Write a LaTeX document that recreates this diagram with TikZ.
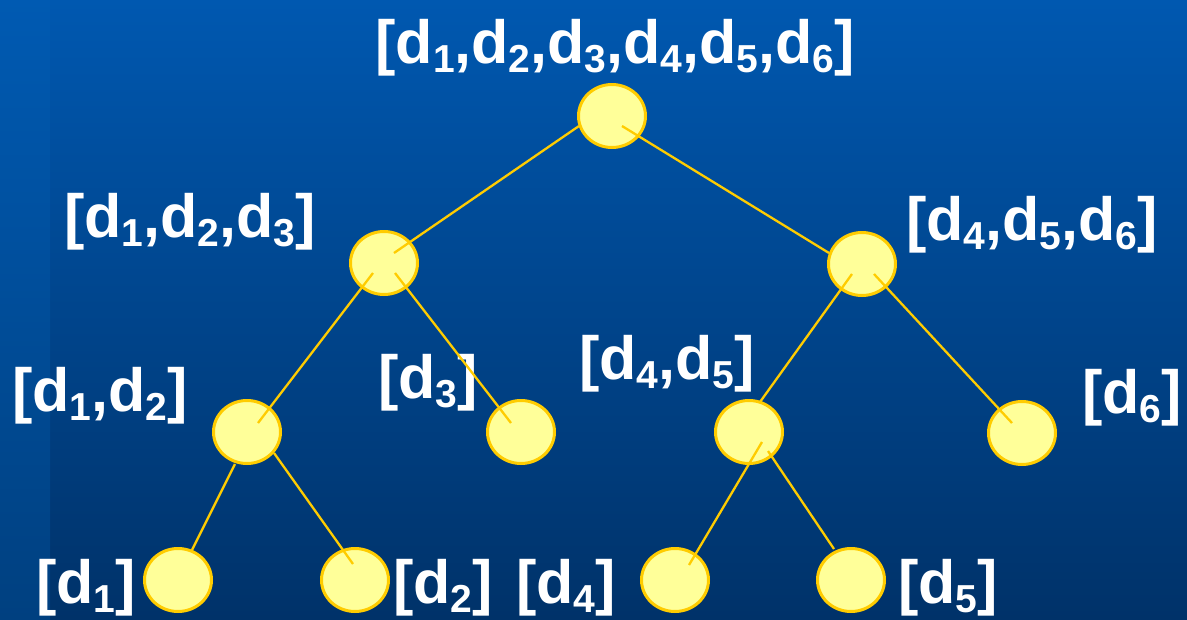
\documentclass[tikz,border=0pt]{standalone}
\usepackage{fontspec}
\setmainfont{Liberation Sans}
\usetikzlibrary{shapes.geometric,calc}
\definecolor{bgtop}{RGB}{0,88,176}
\definecolor{bgbot}{RGB}{0,50,105}
\definecolor{striptop}{RGB}{0,90,178}
\definecolor{stripbot}{RGB}{0,64,128}
\definecolor{nodefill}{RGB}{255,255,153}
\definecolor{gold}{RGB}{255,204,0}
\newcommand{\dsub}[1]{\raisebox{-9pt}{\fontsize{39}{39}\selectfont #1}}
\tikzset{
  tnode/.style={ellipse, draw=gold, fill=nodefill, line width=3pt, minimum width=67pt, minimum height=63pt, inner sep=0pt},
  conn/.style={draw=gold, line width=2.3pt},
  lbl/.style={text=white, font=\fontsize{61}{61}\selectfont\bfseries, anchor=base, inner sep=0pt}
}
\begin{document}
\begin{tikzpicture}[x=1pt,y=-1pt]
\useasboundingbox (0,0) rectangle (1187,619);
\shade[top color=bgtop,bottom color=bgbot] (0,0) rectangle (1187,619);
\shade[top color=striptop,bottom color=stripbot] (0,0) rectangle (50,619);
% tree nodes
\node[tnode] (root) at (612,116) {};
\node[tnode] (a) at (384,263) {};
\node[tnode] (b) at (862,264) {};
\node[tnode] (c) at (247,432) {};
\node[tnode] (d) at (521,432) {};
\node[tnode] (e) at (749,432) {};
\node[tnode] (f) at (1022,433) {};
\node[tnode] (g) at (178,580) {};
\node[tnode] (h) at (355,580) {};
\node[tnode] (i) at (675,580) {};
\node[tnode] (j) at (851,580) {};
% labels
\node[lbl] (lroot) at (615,63) {[d\dsub{1},d\dsub{2},d\dsub{3},d\dsub{4},d\dsub{5},d\dsub{6}]};
\node[lbl] (la) at (190,237) {[d\dsub{1},d\dsub{2},d\dsub{3}]};
\node[lbl] (lb) at (1032,240) {[d\dsub{4},d\dsub{5},d\dsub{6}]};
\node[lbl] (lc) at (100,411) {[d\dsub{1},d\dsub{2}]};
\node[lbl] (ld) at (428,398) {[d\dsub{3}]};
\node[lbl] (le) at (667,379) {[d\dsub{4},d\dsub{5}]};
\node[lbl] (lf) at (1132,413) {[d\dsub{6}]};
\node[lbl] (lg) at (86,603) {[d\dsub{1}]};
\node[lbl] (lh) at (443,603) {[d\dsub{2}]};
\node[lbl] (li) at (566,603) {[d\dsub{4}]};
\node[lbl] (lj) at (948,603) {[d\dsub{5}]};
% connectors
\draw[conn] ([shift={(-33,10)}]root.center) -- ([shift={(10,-10)}]a.center);
\draw[conn] ([shift={(10,10)}]root.center) -- ([shift={(-33,-11)}]b.center);
\draw[conn] ([shift={(-11,10)}]a.center) -- ([shift={(11,-9)}]c.center);
\draw[conn] ([shift={(11,10)}]a.center) -- ([shift={(-10,-9)}]d.center);
\draw[conn] ([shift={(-10,10)}]b.center) -- ([shift={(11,-30)}]e.center);
\draw[conn] ([shift={(12,10)}]b.center) -- ([shift={(-10,-10)}]f.center);
\draw[conn] ([shift={(-12,32)}]c.center) -- ([shift={(14,-30)}]g.center);
\draw[conn] ([shift={(27,21)}]c.center) -- ([shift={(-2,-16)}]h.center);
\draw[conn] ([shift={(13,10)}]e.center) -- ([shift={(14,-15)}]i.center);
\draw[conn] ([shift={(19,19)}]e.center) -- ([shift={(-17,-31)}]j.center);
\end{tikzpicture}
\end{document}
